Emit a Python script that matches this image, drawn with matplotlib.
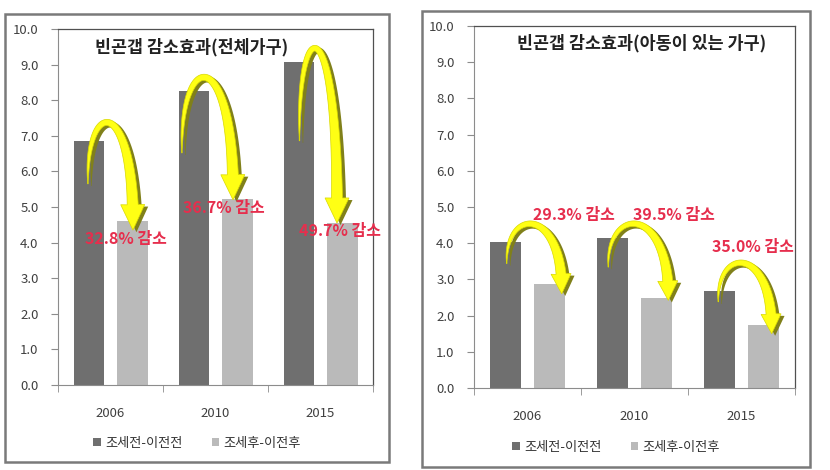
import matplotlib.pyplot as plt
import matplotlib.patches as mpatches
import matplotlib.patheffects as pe
from matplotlib.transforms import IdentityTransform
import numpy as np

plt.rcParams['font.family'] = ['Noto Sans CJK KR', 'DejaVu Sans']

years = ['2006', '2010', '2015']
series_names = ['조세전-이전전', '조세후-이전후']

# 빈곤갭 - 전체가구
all_before = [6.85, 8.27, 9.06]
all_after = [4.60, 5.23, 4.55]
all_cut = ['32.8% 감소', '36.7% 감소', '49.7% 감소']

# 빈곤갭 - 아동이 있는 가구
child_before = [4.03, 4.13, 2.68]
child_after = [2.86, 2.49, 1.75]
child_cut = ['29.3% 감소', '39.5% 감소', '35.0% 감소']

W, H = 830, 470
DARK = '#6f6f6f'
LIGHT = '#bababa'
RED = '#e62e4d'


def fx(x):
    return x / W


def fy(y):
    return 1 - y / H


def arrow_patch(ax, P0, B, P2, w_max, head_w, head_len):
    # curved arrow, thin at the start, built in pixel space
    p0 = ax.transData.transform(P0)
    b = ax.transData.transform(B)
    p3 = ax.transData.transform(P2)
    h = (8 * b[1] - p0[1] - p3[1]) / 6
    c1 = np.array([p0[0] - 2, h])
    c2 = np.array([p3[0] + 2, h])
    t = np.linspace(0, 1, 400)[:, None]
    pts = (1 - t) ** 3 * p0 + 3 * (1 - t) ** 2 * t * c1 + 3 * (1 - t) * t ** 2 * c2 + t ** 3 * p3
    seg = np.linalg.norm(np.diff(pts, axis=0), axis=1)
    s = np.concatenate([[0], np.cumsum(seg)])
    ih = np.searchsorted(s, s[-1] - head_len)
    tail = pts[:ih + 1]
    d = np.gradient(tail, axis=0)
    d /= np.linalg.norm(d, axis=1)[:, None]
    n = np.column_stack([-d[:, 1], d[:, 0]])
    w = np.maximum(w_max * (s[:ih + 1] / s[ih]) ** 0.7, 0.6)[:, None]
    left = tail + n * w / 2
    right = tail - n * w / 2
    base = tail[-1]
    ax_dir = (p3 - base) / np.linalg.norm(p3 - base)
    hn = np.array([-ax_dir[1], ax_dir[0]])
    poly = np.vstack([left, [base + hn * head_w / 2], [p3], [base - hn * head_w / 2], right[::-1]])
    return mpatches.Polygon(poly, closed=True, transform=IdentityTransform(),
                            fc='#ffff14', ec='#d8d800', lw=0.5, zorder=4, clip_on=False)


# arrow shape relative to bars: (start dx, start dy from dark top, peak dx, peak dy, tip dx, tip dy from light top)
all_arrows = [(-0.215, -1.2, 0.0, 0.5, 0.214, -0.25),
              (-0.32, -1.75, -0.12, 0.35, 0.167, -0.03),
              (-0.2, -2.2, -0.06, 0.35, 0.157, 0.0)]
child_arrows = [(-0.194, -0.59, -0.023, 0.49, 0.32, -0.26),
                (-0.245, -0.79, -0.042, 0.39, 0.316, -0.07),
                (-0.217, -0.30, -0.045, 0.76, 0.282, -0.25)]

panels = [
    dict(box=(5, 14, 389, 462), ax=(58, 29, 373, 385), title='빈곤갭 감소효과(전체가구)',
         title_xy=(192, 47), legend_y=443, before=all_before, after=all_after, cut=all_cut,
         cut_xy=[(-0.243, 4.1), (0.69, 4.97), (1.795, 4.33)], arrows=all_arrows,
         arrow_size=(11, 24, 26)),
    dict(box=(422, 11, 810, 467), ax=(474, 26, 795, 388), title='빈곤갭 감소효과(아동이 있는 가구)',
         title_xy=(642, 43), legend_y=447, before=child_before, after=child_after, cut=child_cut,
         cut_xy=[(0.049, 4.77), (0.986, 4.77), (1.72, 3.9)], arrows=child_arrows,
         arrow_size=(10, 20, 20)),
]

fig = plt.figure(figsize=(W / 100, H / 100), dpi=100)

for p in panels:
    x0, y0, x1, y1 = p['box']
    fig.patches.append(mpatches.Rectangle((fx(x0), fy(y1)), fx(x1 - x0), (y1 - y0) / H,
                                          transform=fig.transFigure, fill=False,
                                          ec='#7a7a7a', lw=1.8, zorder=0))
    a0, b0, a1, b1 = p['ax']
    ax = fig.add_axes([fx(a0), fy(b1), fx(a1 - a0), (b1 - b0) / H])

    x = np.arange(len(years))
    bw = 0.29
    ax.bar(x - 0.205, p['before'], bw, color=DARK, label=series_names[0], zorder=2)
    ax.bar(x + 0.21, p['after'], bw, color=LIGHT, label=series_names[1], zorder=2)

    ax.set_xlim(-0.5, 2.5)
    ax.set_ylim(0, 10)
    ax.set_yticks(np.arange(0, 10.1, 1))
    ax.set_yticklabels(['%.1f' % v for v in np.arange(0, 10.1, 1)])
    ax.set_xticks(x)
    ax.set_xticklabels(years)
    ax.set_xticks([-0.5, 0.5, 1.5, 2.5], minor=True)
    ax.tick_params(axis='x', which='major', length=0, pad=16, labelsize=9.5, labelcolor='#404040')
    ax.tick_params(axis='x', which='minor', length=5, color='#8c8c8c')
    ax.tick_params(axis='y', length=5, color='#8c8c8c', pad=9, labelsize=9.5, labelcolor='#404040')
    for s in ['left', 'bottom']:
        ax.spines[s].set_color('#8c8c8c')
    for s in ['top', 'right']:
        ax.spines[s].set_color('#505050')
        ax.spines[s].set_linewidth(0.9)

    fig.text(fx(p['title_xy'][0]), fy(p['title_xy'][1]), p['title'], ha='center', va='center',
             fontsize=12.5, fontweight='bold', color='#222222')

    wm, hw, hl = p['arrow_size']
    for i, (sx, sy, px_, py_, tx, ty) in enumerate(p['arrows']):
        P0 = (i + sx, p['before'][i] + sy)
        B = (i + px_, p['before'][i] + py_)
        P2 = (i + tx, p['after'][i] + ty)
        arr = arrow_patch(ax, P0, B, P2, wm, hw, hl)
        arr.set_path_effects([pe.SimplePatchShadow(offset=(2.5, -1.5), shadow_rgbFace='#80801a', alpha=1),
                              pe.Normal()])
        ax.add_patch(arr)

    for (tx, ty), s in zip(p['cut_xy'], p['cut']):
        ax.text(tx, ty, s, ha='left', va='center', fontsize=11.5, fontweight='bold', color=RED, zorder=6)

    ax.legend(loc='center', bbox_to_anchor=(fx((x0 + x1) / 2), fy(p['legend_y'])),
              bbox_transform=fig.transFigure, ncol=2, frameon=False, fontsize=9.5,
              handlelength=0.6, handleheight=0.6, handletextpad=0.3, columnspacing=2.2,
              labelcolor='#333333')

fig.savefig('out.png', dpi=100)
